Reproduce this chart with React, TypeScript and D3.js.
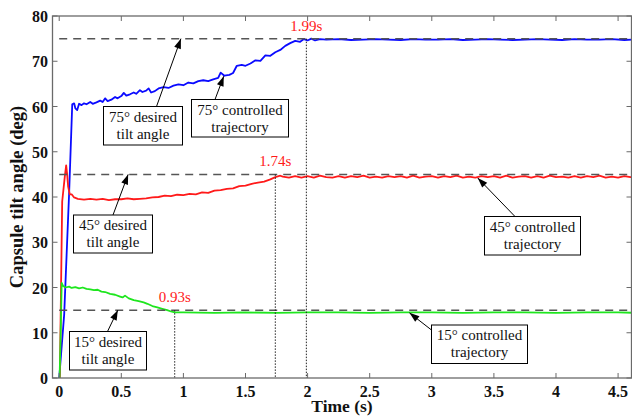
import React from "react";
import * as d3 from "d3";

// Measured capsule tilt angle (deg) against time (s) for three set-points.
const blueTrajectory: [number, number][] = [
  [0, 0], [0.04, 14], [0.08, 41], [0.105, 60.5], [0.12, 60.7], [0.13, 59.6], [0.145, 59.2], [0.16, 60.6],
  [0.18, 60.3], [0.2, 60.7], [0.22, 60.5], [0.25, 61.0], [0.27, 60.6], [0.3, 60.9], [0.33, 61.3], [0.35, 61.0],
  [0.37, 61.8], [0.39, 61.2], [0.42, 61.5], [0.45, 62.1], [0.47, 61.8], [0.5, 62.3], [0.52, 63.0], [0.54, 62.4],
  [0.57, 62.7], [0.6, 63.1], [0.62, 62.8], [0.65, 63.6], [0.67, 63.2], [0.7, 63.5], [0.72, 64.0], [0.74, 63.1],
  [0.77, 63.4], [0.8, 64.0], [0.84, 64.3], [0.88, 64.1], [0.92, 64.6], [0.96, 64.9], [1.0, 64.7], [1.04, 65.3],
  [1.08, 65.1], [1.12, 65.6], [1.16, 65.8], [1.2, 65.6], [1.24, 66.0], [1.28, 66.3], [1.3, 67.5], [1.33, 66.8],
  [1.37, 67.0], [1.4, 67.4], [1.43, 69.0], [1.47, 69.2], [1.5, 69.0], [1.54, 69.5], [1.58, 70.2], [1.62, 70.1],
  [1.66, 71.3], [1.7, 71.2], [1.74, 72.0], [1.78, 72.5], [1.82, 73.4], [1.86, 74.0], [1.9, 74.5], [1.94, 74.3],
  [1.97, 74.9], [2.0, 74.6], [2.03, 75.0], [2.06, 74.6], [2.1, 74.9], [2.15, 74.8], [2.25, 74.9], [2.35, 74.7],
  [2.45, 74.8], [2.55, 74.9], [2.65, 74.8], [2.75, 74.7], [2.85, 74.9], [2.95, 74.8], [3.05, 74.8], [3.15, 74.9],
  [3.25, 74.7], [3.35, 74.8], [3.45, 74.9], [3.55, 74.8], [3.65, 74.7], [3.75, 74.8], [3.85, 74.9], [3.95, 74.8],
  [4.05, 74.7], [4.15, 74.9], [4.25, 74.8], [4.35, 74.8], [4.45, 74.9], [4.55, 74.7], [4.65, 74.8],
];

const redTrajectory: [number, number][] = [
  [0.005, 0], [0.024, 39], [0.045, 44.5], [0.056, 47.0], [0.064, 45.0], [0.072, 42.3], [0.085, 40.6], [0.1, 40.6],
  [0.12, 39.9], [0.15, 39.6], [0.2, 39.4], [0.25, 39.6], [0.3, 39.4], [0.35, 39.6], [0.4, 39.3], [0.45, 39.5],
  [0.5, 39.5], [0.55, 39.7], [0.6, 39.5], [0.65, 39.6], [0.7, 39.7], [0.75, 39.9], [0.8, 40.0], [0.85, 40.3],
  [0.9, 40.2], [0.95, 40.5], [1.0, 40.4], [1.05, 40.7], [1.1, 40.6], [1.15, 41.0], [1.2, 40.9], [1.25, 41.4],
  [1.3, 41.5], [1.35, 41.8], [1.4, 41.9], [1.45, 42.4], [1.5, 42.5], [1.55, 42.9], [1.6, 43.2], [1.65, 43.4],
  [1.7, 43.9], [1.74, 44.4], [1.78, 44.7],
  [1.8, 44.5], [1.85, 44.3], [1.9, 44.6], [1.95, 44.3], [2.0, 44.6], [2.05, 44.3], [2.1, 44.7], [2.15, 44.4],
  [2.2, 44.3], [2.25, 44.6], [2.3, 44.3], [2.35, 44.6], [2.4, 44.4], [2.45, 44.7], [2.5, 44.3], [2.55, 44.5],
  [2.6, 44.3], [2.65, 44.6], [2.7, 44.4], [2.75, 44.6], [2.8, 44.3], [2.85, 44.7], [2.9, 44.3], [2.95, 44.5],
  [3.0, 44.6], [3.05, 44.3], [3.1, 44.6], [3.15, 44.4], [3.2, 44.7], [3.25, 44.3], [3.3, 44.5], [3.35, 44.3],
  [3.4, 44.6], [3.45, 44.4], [3.5, 44.6], [3.55, 44.3], [3.6, 44.7], [3.65, 44.3], [3.7, 44.5], [3.75, 44.6],
  [3.8, 44.3], [3.85, 44.6], [3.9, 44.3], [3.95, 44.7], [4.0, 44.4], [4.05, 44.5], [4.1, 44.3], [4.15, 44.6],
  [4.2, 44.3], [4.25, 44.6], [4.3, 44.4], [4.35, 44.7], [4.4, 44.3], [4.45, 44.5], [4.5, 44.3], [4.55, 44.6],
  [4.6, 44.4], [4.65, 44.6],
];

const greenTrajectory: [number, number][] = [
  [0.003, 0], [0.012, 10], [0.02, 21.0], [0.03, 20.4], [0.05, 20.0], [0.08, 20.2], [0.1, 19.9], [0.13, 20.1],
  [0.16, 19.8], [0.19, 20.0], [0.22, 19.7], [0.25, 19.6], [0.28, 19.4], [0.31, 19.5], [0.34, 19.1], [0.37, 19.0],
  [0.41, 18.6], [0.45, 18.4], [0.49, 18.0], [0.51, 17.8], [0.53, 18.2], [0.56, 17.6], [0.6, 17.2], [0.64, 17.0],
  [0.68, 16.7], [0.71, 16.4], [0.75, 15.9], [0.79, 15.6], [0.83, 15.3], [0.87, 15.0], [0.9, 14.7], [0.93, 14.5],
  [1.0, 14.5], [1.25, 14.4], [1.5, 14.5], [1.75, 14.4], [2.0, 14.5], [2.25, 14.5], [2.5, 14.4], [2.75, 14.5],
  [3.0, 14.5], [3.25, 14.4], [3.5, 14.5], [3.75, 14.5], [4.0, 14.4], [4.25, 14.5], [4.5, 14.5], [4.65, 14.4],
];

// Desired tilt angles (deg) and the settling time of each run (s).
const desiredAngles = [75, 45, 15];
const settlingTimes = [1.99, 1.74, 0.93];
const settlingLabels = ["1.99s", "1.74s", "0.93s"];

const xTicks = [0, 0.5, 1, 1.5, 2, 2.5, 3, 3.5, 4, 4.5];
const xTickLabels = ["0", "0.5", "1", "1.5", "2", "2.5", "3", "3.5", "4", "4.5"];
const yTicks = [0, 10, 20, 30, 40, 50, 60, 70, 80];
const yTickLabels = ["0", "10", "20", "30", "40", "50", "60", "70", "80"];

// Callout boxes: text, box placement (px) and the point (t, deg) the arrow touches.
const calloutLines = [
  ["75° desired", "tilt angle"],
  ["75° controlled", "trajectory"],
  ["45° desired", "tilt angle"],
  ["45° controlled", "trajectory"],
  ["15° desired", "tilt angle"],
  ["15° controlled", "trajectory"],
];
const calloutTargets: [number, number][] = [
  [0.98, 75], [1.325, 66.7], [0.555, 45], [3.37, 44.2], [0.472, 15], [2.82, 14.4],
];
const calloutBoxes = [
  { x: 103.5, y: 106.5, w: 79, h: 38.5, tx: 156.5, ty: 106.5 },
  { x: 191.5, y: 99.5, w: 97, h: 37.5, tx: 215, ty: 99.5 },
  { x: 73.5, y: 215, w: 79, h: 38, tx: 113, ty: 215 },
  { x: 484.5, y: 216.5, w: 96, h: 38.5, tx: 515, ty: 216.5 },
  { x: 69.5, y: 331.5, w: 77, h: 38.5, tx: 107.5, ty: 331.5 },
  { x: 431.5, y: 325, w: 96, h: 38.5, tx: 431.5, ty: 330 },
];

const W = 632;
const H = 416;
const plot = { left: 52.5, right: 631.5, top: 16, bottom: 378 };

const serif = "Liberation Serif, Times New Roman, serif";

export default function App() {
  const x = d3.scaleLinear().domain([-0.054, 4.608]).range([plot.left, plot.right]);
  const y = d3.scaleLinear().domain([0, 80]).range([plot.bottom, plot.top]);
  const line = d3
    .line<[number, number]>()
    .x((d) => x(d[0]))
    .y((d) => y(d[1]));

  const series = [
    { data: blueTrajectory, color: "#0a0aff" },
    { data: redTrajectory, color: "#ff1a1a" },
    { data: greenTrajectory, color: "#1ee61e" },
  ];

  const axisColor = "#6a6a6a";
  const tickLen = 5;

  const arrowHead = (fx: number, fy: number, tx: number, ty: number) => {
    const ang = Math.atan2(ty - fy, tx - fx);
    const len = 10;
    const half = 3.5;
    const bx = tx - len * Math.cos(ang);
    const by = ty - len * Math.sin(ang);
    const px = -Math.sin(ang) * half;
    const py = Math.cos(ang) * half;
    return `${tx},${ty} ${bx + px},${by + py} ${bx - px},${by - py}`;
  };

  return (
    <svg
      width={W}
      height={H}
      viewBox={`0 0 ${W} ${H}`}
      style={{ position: "absolute", left: 0, top: 0, background: "#fff" }}
    >
      <defs>
        <clipPath id="plot-area">
          <rect x={plot.left} y={plot.top} width={plot.right - plot.left} height={plot.bottom - plot.top} />
        </clipPath>
      </defs>
      <rect x={0} y={0} width={W} height={H} fill="#fff" />

      {/* trajectories */}
      <g clipPath="url(#plot-area)">
        {series.map((s, i) => (
          <path key={i} d={line(s.data) ?? ""} fill="none" stroke={s.color} strokeWidth={1.8} strokeLinejoin="round" />
        ))}
        {/* desired angle references */}
        {desiredAngles.map((a) => (
          <line
            key={a}
            x1={x(0)}
            x2={plot.right}
            y1={y(a)}
            y2={y(a)}
            stroke="#555"
            strokeWidth={1.5}
            strokeDasharray="8,6"
          />
        ))}
        {/* settling-time markers */}
        {settlingTimes.map((t, i) => (
          <line
            key={t}
            x1={x(t)}
            x2={x(t)}
            y1={y(desiredAngles[i])}
            y2={plot.bottom}
            stroke="#222"
            strokeWidth={1}
            strokeDasharray="1.5,1.5"
          />
        ))}
      </g>

      {settlingTimes.map((t, i) => (
        <text
          key={t}
          x={x(t)}
          y={y(desiredAngles[i]) - 8}
          textAnchor="middle"
          fontFamily={serif}
          fontSize={15}
          fill="#ff1a1a"
        >
          {settlingLabels[i]}
        </text>
      ))}

      {/* frame and ticks */}
      <rect
        x={plot.left}
        y={plot.top}
        width={plot.right - plot.left}
        height={plot.bottom - plot.top}
        fill="none"
        stroke={axisColor}
        strokeWidth={1.3}
      />
      {xTicks.map((t) => (
        <g key={t} stroke={axisColor} strokeWidth={1}>
          <line x1={x(t)} x2={x(t)} y1={plot.bottom} y2={plot.bottom - tickLen} />
          <line x1={x(t)} x2={x(t)} y1={plot.top} y2={plot.top + tickLen} />
        </g>
      ))}
      {yTicks.map((v) => (
        <g key={v} stroke={axisColor} strokeWidth={1}>
          <line x1={plot.left} x2={plot.left + tickLen} y1={y(v)} y2={y(v)} />
          <line x1={plot.right} x2={plot.right - tickLen} y1={y(v)} y2={y(v)} />
        </g>
      ))}
      {xTicks.map((t, i) => (
        <text
          key={t}
          x={x(t)}
          y={397}
          textAnchor="middle"
          fontFamily={serif}
          fontWeight="bold"
          fontSize={16}
          fill="#111"
        >
          {xTickLabels[i]}
        </text>
      ))}
      {yTicks.map((v, i) => (
        <text
          key={v}
          x={48}
          y={y(v) + 6}
          textAnchor="end"
          fontFamily={serif}
          fontWeight="bold"
          fontSize={16}
          fill="#111"
        >
          {yTickLabels[i]}
        </text>
      ))}

      {/* axis titles */}
      <text
        x={(plot.left + plot.right) / 2}
        y={411.5}
        textAnchor="middle"
        fontFamily={serif}
        fontWeight="bold"
        fontSize={17.5}
        fill="#111"
      >
        Time (s)
      </text>
      <text
        transform={`translate(23, ${(plot.top + plot.bottom) / 2}) rotate(-90)`}
        textAnchor="middle"
        fontFamily={serif}
        fontWeight="bold"
        fontSize={18.5}
        fill="#111"
      >
        Capsule tilt angle (deg)
      </text>

      {/* callouts */}
      {calloutBoxes.map((b, i) => {
        const [tt, tv] = calloutTargets[i];
        const px = x(tt);
        const py = y(tv);
        return (
          <g key={i}>
            <line x1={b.tx} y1={b.ty} x2={px} y2={py} stroke="#000" strokeWidth={1} />
            <polygon points={arrowHead(b.tx, b.ty, px, py)} fill="#000" />
            <rect x={b.x} y={b.y} width={b.w} height={b.h} fill="#fff" stroke="#000" strokeWidth={1} />
            {calloutLines[i].map((ln, j) => (
              <text
                key={j}
                x={b.x + b.w / 2}
                y={b.y + 15 + j * 17}
                textAnchor="middle"
                fontFamily={serif}
                fontSize={15}
                fill="#111"
              >
                {ln}
              </text>
            ))}
          </g>
        );
      })}
    </svg>
  );
}
